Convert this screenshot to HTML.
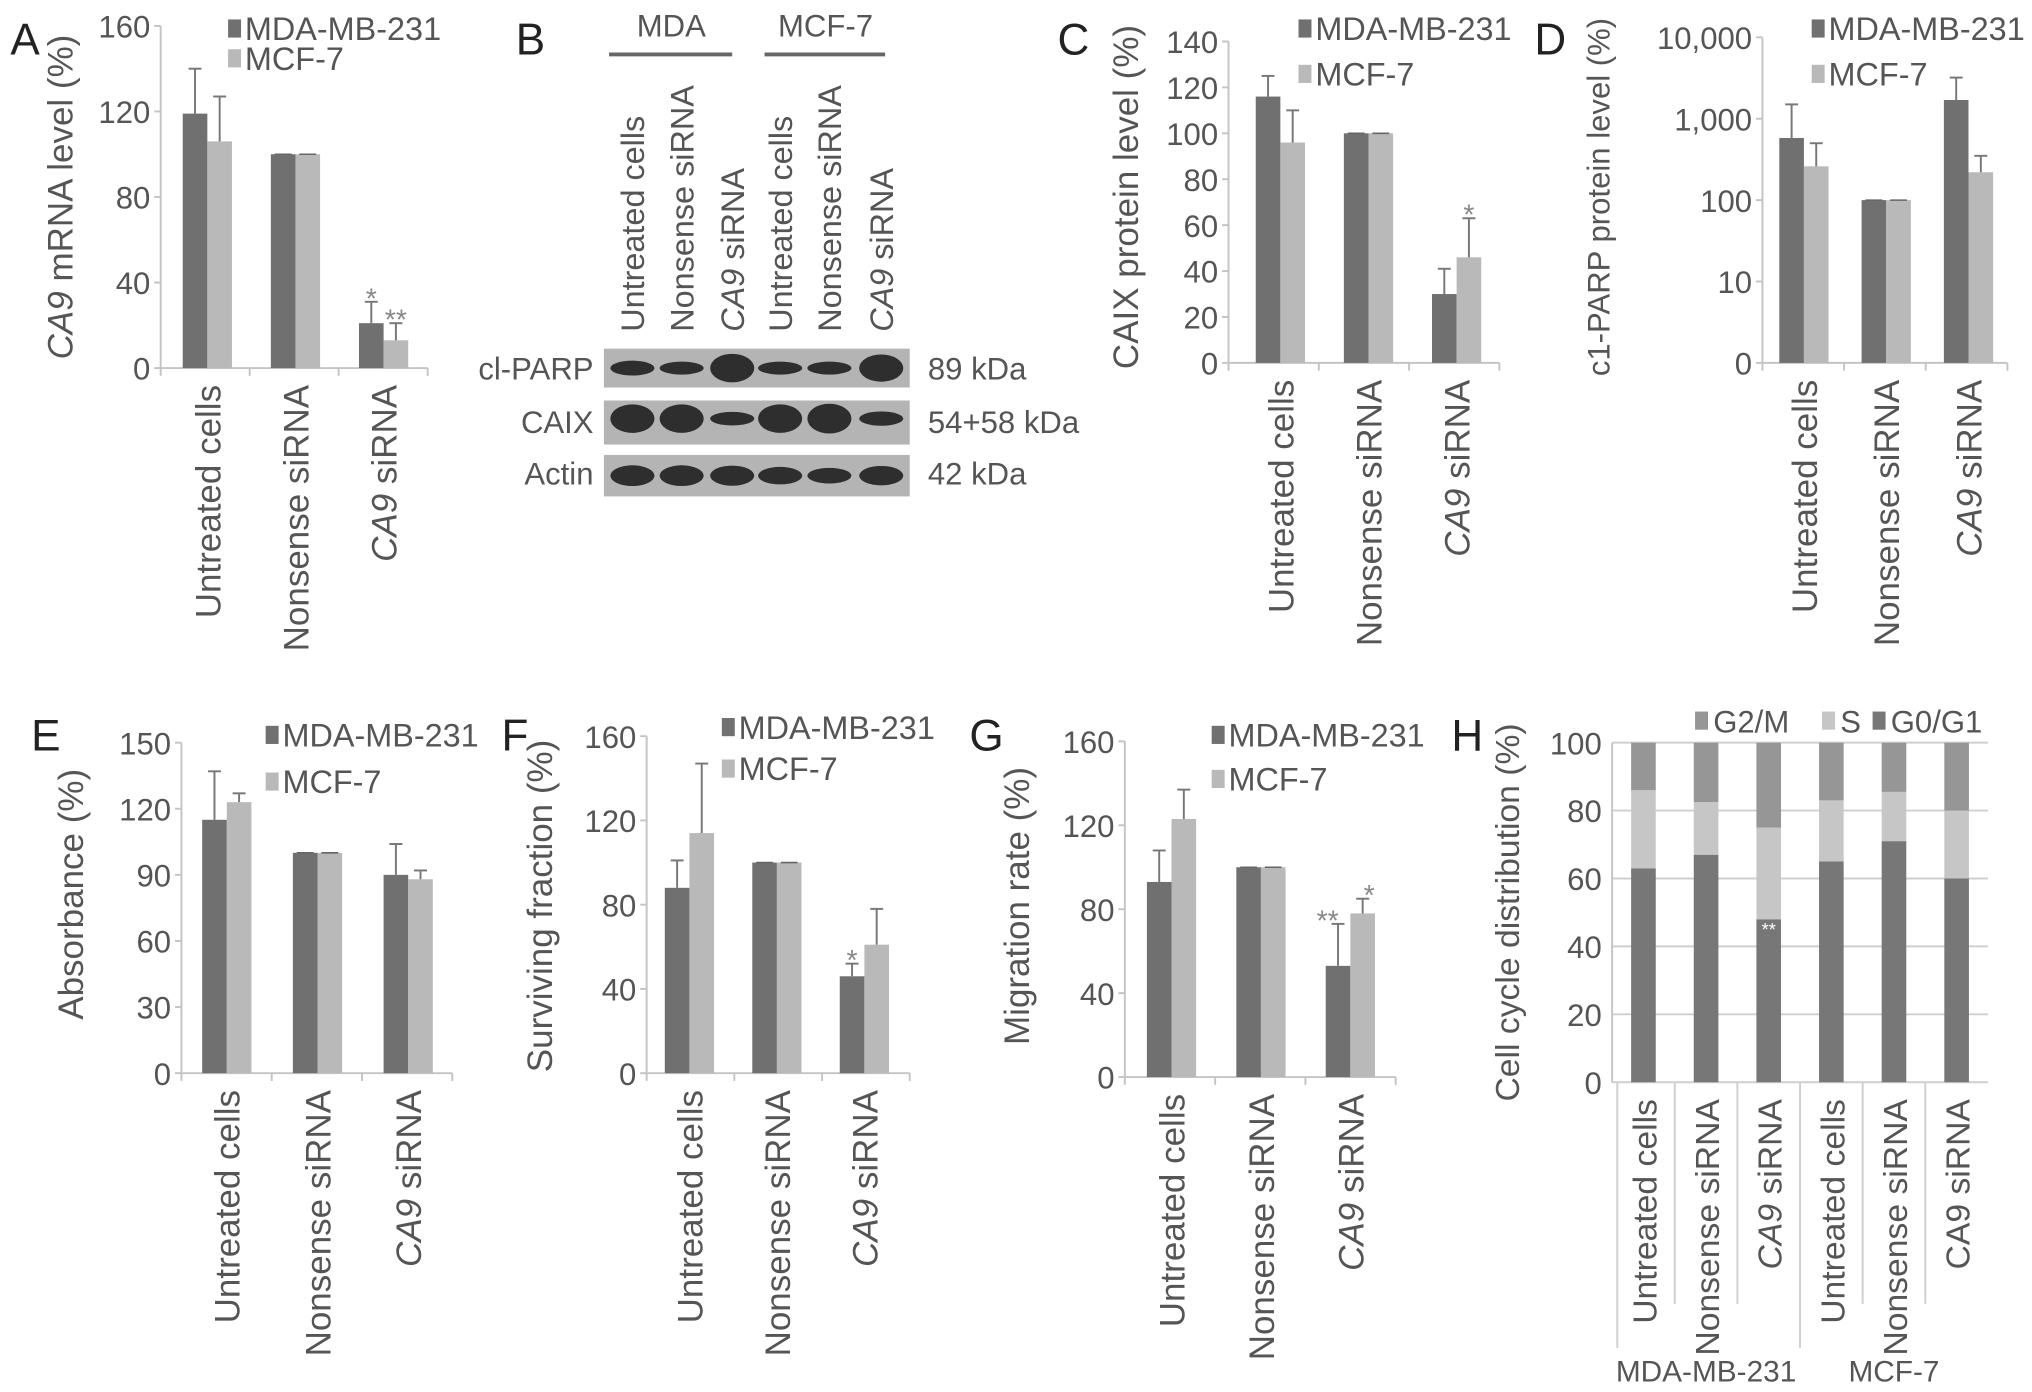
<!DOCTYPE html>
<html><head><meta charset="utf-8"><style>
html,body{margin:0;padding:0;background:#fff;}
svg{display:block;}
text{font-family:"Liberation Sans",sans-serif;fill:#555;}
</style></head><body>
<svg id="fig" xmlns="http://www.w3.org/2000/svg" width="2032" height="1392" viewBox="0 0 1568 1074" preserveAspectRatio="none">
<rect width="1568" height="1074" fill="#fff"/>
<g id="blot">
<text x="398" y="42" font-size="34" style="fill:#222">B</text>
<text x="518" y="28" font-size="24" text-anchor="middle">MDA</text>
<line x1="470" y1="42" x2="565" y2="42" stroke="#666" stroke-width="3"/>
<text x="637" y="28" font-size="24" text-anchor="middle">MCF-7</text>
<line x1="590" y1="42" x2="683" y2="42" stroke="#666" stroke-width="3"/>
<g id="blotlanes"></g>
<rect x="466" y="269" width="236" height="30" fill="#b4b4b4"/>
<rect x="466" y="309" width="236" height="34" fill="#b4b4b4"/>
<rect x="466" y="351" width="236" height="32" fill="#b4b4b4"/>
<g id="bands"></g>
<text x="458" y="293" font-size="24" text-anchor="end">cl-PARP</text>
<text x="458" y="334" font-size="24" text-anchor="end">CAIX</text>
<text x="458" y="374" font-size="24" text-anchor="end">Actin</text>
<text x="716" y="293" font-size="24">89 kDa</text>
<text x="716" y="334" font-size="24">54+58 kDa</text>
<text x="716" y="374" font-size="24">42 kDa</text>
</g>
</svg>
<script>
const categories = ["Untreated cells", "Nonsense siRNA", "CA9 siRNA"];
const aMDA = [119, 100, 21], aMCF = [106, 100, 13], aMDAerr = [21, 0, 10], aMCFerr = [21, 0, 8];
const cMDA = [116, 100, 30], cMCF = [96, 100, 46], cMDAerr = [9, 0, 11], cMCFerr = [14, 0, 17];
const dMDA = [580, 100, 1700], dMCF = [260, 100, 220], dMDAtop = [1500, 100, 3200], dMCFtop = [500, 100, 350];
const eMDA = [115, 100, 90], eMCF = [123, 100, 88], eMDAerr = [22, 0, 14], eMCFerr = [4, 0, 4];
const fMDA = [88, 100, 46], fMCF = [114, 100, 61], fMDAerr = [13, 0, 6], fMCFerr = [33, 0, 17];
const gMDA = [93, 100, 53], gMCF = [123, 100, 78], gMDAerr = [15, 0, 20], gMCFerr = [14, 0, 7];
const aTicks = [0, 40, 80, 120, 160];
const cTicks = [0, 20, 40, 60, 80, 100, 120, 140];
const dTicks = [1, 10, 100, 1000, 10000];
const dTickLabels = ["0", "10", "100", "1,000", "10,000"];
const eTicks = [0, 30, 60, 90, 120, 150];
const fTicks = [0, 40, 80, 120, 160];
const hCats = ["Untreated cells", "Nonsense siRNA", "CA9 siRNA", "Untreated cells", "Nonsense siRNA", "CA9 siRNA"];
const hG0G1 = [63, 67, 48, 65, 71, 60];
const hS = [23, 15.5, 27, 18, 14.5, 20];
const hG2M = [14, 17.5, 25, 17, 14.5, 20];
const hTicks = [0, 20, 40, 60, 80, 100];
const blotParp = [0.55, 0.4, 1.6, 0.4, 0.4, 1.5];
const blotCaix = [1.6, 1.6, 0.45, 1.6, 1.7, 0.5];
const blotActin = [1.0, 1.0, 0.95, 0.75, 0.6, 0.9];

const NS = "http://www.w3.org/2000/svg";
const svg = document.getElementById("fig");
function mk(tag, attrs, parent) {
  const e = document.createElementNS(NS, tag);
  for (const k in attrs) e.setAttribute(k, attrs[k]);
  (parent || svg).appendChild(e);
  return e;
}
const DARK = "#707070", LIGHT = "#b9b9b9", AX = "#c4c4c4";
const CATFS = 27, TICKFS = 24, LEGFS = 25, TITLEFS = 27;

function catLabel(g, txt, x, y, fs) {
  const t = mk("text", {x: 0, y: 0, "font-size": fs, "text-anchor": "end", transform: `translate(${x},${y}) rotate(-90)`}, g);
  
  
  if (txt.startsWith("CA9")) {
    const s = mk("tspan", {"font-style": "italic"}, t); s.textContent = "CA9";
    const s2 = mk("tspan", {}, t); s2.textContent = txt.slice(3);
  } else t.textContent = txt;
}

function barPanel(cfg) {
  const g = mk("g", {});
  
  
  const yOf = v => cfg.log ? cfg.y0 - Math.log10(v) * cfg.logStep : cfg.y0 - (v - cfg.min) / (cfg.max - cfg.min) * (cfg.y0 - cfg.yTop);
  mk("line", {x1: cfg.ax, y1: cfg.yTop, x2: cfg.ax, y2: cfg.y0, stroke: AX, "stroke-width": 1.5}, g);
  mk("line", {x1: cfg.ax, y1: cfg.y0, x2: cfg.axEnd, y2: cfg.y0, stroke: AX, "stroke-width": 1.5}, g);
  cfg.ticks.forEach((t, i) => {
    const y = yOf(t);
    mk("line", {x1: cfg.ax - 5, y1: y, x2: cfg.ax, y2: y, stroke: AX, "stroke-width": 1.5}, g);
    const tx = mk("text", {x: cfg.ax - 8, y: y + 9, "font-size": TICKFS, "text-anchor": "end"}, g);
    
    
    tx.textContent = cfg.tickLabels ? cfg.tickLabels[i] : t;
  });
  for (let i = 0; i <= categories.length; i++) {
    const x = cfg.ax + (cfg.axEnd - cfg.ax) * i / categories.length;
    mk("line", {x1: x, y1: cfg.y0, x2: x, y2: cfg.y0 + 6, stroke: AX, "stroke-width": 1.5}, g);
  }
  const bw = 19;
  categories.forEach((c, i) => {
    const cx = cfg.c0 + cfg.cw * i;
    [[cfg.mda, cfg.mdaErr, cfg.mdaTop, DARK, cx - bw], [cfg.mcf, cfg.mcfErr, cfg.mcfTop, LIGHT, cx]].forEach(([vals, err, tops, col, x], s) => {
      const y = yOf(vals[i]);
      const r = mk("rect", {x: x, y: y, width: bw, height: cfg.y0 - y, fill: col}, g);
      
      
      const top = tops ? tops[i] : vals[i] + err[i];
      const yt = yOf(top);
      const ex = x + bw / 2;
      if (top > vals[i]) {
        mk("line", {x1: ex, y1: y, x2: ex, y2: yt, stroke: "#777", "stroke-width": 1.5}, g);
        mk("line", {x1: ex - 5, y1: yt, x2: ex + 5, y2: yt, stroke: "#777", "stroke-width": 1.5}, g);
      } else {
        mk("line", {x1: x + 3, y1: y, x2: x + bw - 3, y2: y, stroke: "#666", "stroke-width": 1.2}, g);
      }
    });
    catLabel(g, c, cx + 10, cfg.y0 + 13, CATFS);
  });
  (cfg.stars || []).forEach(st => {
    const i = st[0];
    const cx = cfg.c0 + cfg.cw * i + (st[1] === 0 ? -bw / 2 : bw / 2);
    const top = st[1] === 0 ? (cfg.mdaTop ? cfg.mdaTop[i] : cfg.mda[i] + cfg.mdaErr[i]) : (cfg.mcfTop ? cfg.mcfTop[i] : cfg.mcf[i] + cfg.mcfErr[i]);
    const t = mk("text", {x: cx + (st[3] || 0), y: yOf(top) + 5, "font-size": 22, "text-anchor": "middle", style: "fill:#888"}, g);
    
    
    t.textContent = st[2];
  });
  [["MDA-MB-231", DARK, cfg.leg[1]], ["MCF-7", LIGHT, cfg.leg[2]]].forEach(([nm, col, ly]) => {
    const r = mk("rect", {x: cfg.leg[0], y: ly - 7, width: 10, height: 14, fill: col}, g);
    
    
    const t = mk("text", {x: cfg.leg[0] + 13, y: ly + 9, "font-size": LEGFS}, g);
    
    
    t.textContent = nm;
  });
  const yt = mk("text", {x: 0, y: 0, "font-size": cfg.titleFs || TITLEFS, "text-anchor": "middle", transform: `translate(${cfg.yTitle[0]},${cfg.yTitle[1]}) rotate(-90)`}, g);
  
  
  if (cfg.title.startsWith("CA9")) {
    const s = mk("tspan", {"font-style": "italic"}, yt); s.textContent = "CA9";
    const s2 = mk("tspan", {}, yt); s2.textContent = cfg.title.slice(3);
  } else yt.textContent = cfg.title;
  const pl = mk("text", {x: cfg.letter[0], y: cfg.letter[1], "font-size": 34, style: "fill:#222"}, g);
  
  
  pl.textContent = cfg.letterText;
}

barPanel({name: "panel-a-chart", ax: 124, axEnd: 330, y0: 284, yTop: 20, min: 0, max: 160, ticks: aTicks, c0: 160, cw: 68,
  mda: aMDA, mcf: aMCF, mdaErr: aMDAerr, mcfErr: aMCFerr, stars: [[2, 0, "*"], [2, 1, "**"]],
  leg: [176, 22, 45], yTitle: [56, 152], title: "CA9 mRNA level (%)", letter: [8, 42], letterText: "A"});
barPanel({name: "panel-c-chart", ax: 948, axEnd: 1157, y0: 280, yTop: 32, min: 0, max: 140, ticks: cTicks, c0: 988, cw: 68,
  mda: cMDA, mcf: cMCF, mdaErr: cMDAerr, mcfErr: cMCFerr, stars: [[2, 1, "*"]],
  leg: [1002, 22, 57], yTitle: [878, 152], title: "CAIX protein level (%)", letter: [816, 42], letterText: "C"});
barPanel({name: "panel-d-chart", ax: 1360, axEnd: 1549, y0: 280, yTop: 29, log: true, logStep: 62.8, ticks: dTicks, tickLabels: dTickLabels, c0: 1392, cw: 63.5,
  mda: dMDA, mcf: dMCF, mdaTop: dMDAtop, mcfTop: dMCFtop, titleFs: 24,
  leg: [1398, 22, 57], yTitle: [1242, 152], title: "c1-PARP protein level (%)", letter: [1184, 42], letterText: "D"});
barPanel({name: "panel-e-chart", ax: 140, axEnd: 349, y0: 828, yTop: 573, min: 0, max: 150, ticks: eTicks, c0: 175, cw: 70,
  mda: eMDA, mcf: eMCF, mdaErr: eMDAerr, mcfErr: eMCFerr,
  leg: [205, 567, 603], yTitle: [64, 690], title: "Absorbance (%)", letter: [24, 579], letterText: "E"});
barPanel({name: "panel-f-chart", ax: 499, axEnd: 702, y0: 828, yTop: 568, min: 0, max: 160, ticks: fTicks, c0: 532, cw: 67.5,
  mda: fMDA, mcf: fMCF, mdaErr: fMDAerr, mcfErr: fMCFerr, stars: [[2, 0, "*"]],
  leg: [557, 561, 593], yTitle: [426, 699], title: "Surviving fraction (%)", letter: [387, 579], letterText: "F"});
barPanel({name: "panel-g-chart", ax: 868, axEnd: 1077, y0: 831, yTop: 572, min: 0, max: 160, ticks: fTicks, c0: 904, cw: 69,
  mda: gMDA, mcf: gMCF, mdaErr: gMDAerr, mcfErr: gMCFerr, stars: [[2, 0, "**", -8], [2, 1, "*", 5]],
  leg: [935, 567, 601], yTitle: [794, 699], title: "Migration rate (%)", letter: [748, 579], letterText: "G"});

(function () {
  const g = mk("g", {});
  
  
  const ax = 1244, axEnd = 1534, y0 = 835, yTop = 573;
  const yOf = v => y0 - v / 100 * (y0 - yTop);
  hTicks.forEach(t => {
    const y = yOf(t);
    mk("line", {x1: ax, y1: y, x2: axEnd, y2: y, stroke: "#cfcfcf", "stroke-width": 1.5}, g);
    const tx = mk("text", {x: ax - 8, y: y + 9, "font-size": TICKFS, "text-anchor": "end"}, g);
    
    
    tx.textContent = t;
  });
  mk("line", {x1: ax, y1: yTop, x2: ax, y2: y0, stroke: AX, "stroke-width": 1.5}, g);
  const cw = (axEnd - ax) / hCats.length;
  hCats.forEach((c, i) => {
    const cx = ax + cw * (i + 0.5);
    let base = 0;
    [[hG0G1, "#777777", "segment-g0-g1"], [hS, "#c6c6c6", "segment-s"], [hG2M, "#969696", "segment-g2-m"]].forEach(([arr, col, nm]) => {
      const r = mk("rect", {x: cx - 9.5, y: yOf(base + arr[i]), width: 19, height: yOf(base) - yOf(base + arr[i]), fill: col}, g);
      
      
      base += arr[i];
    });
    const t = mk("text", {x: 0, y: 0, "font-size": 26, "text-anchor": "end", transform: `translate(${cx + 10},${y0 + 13}) rotate(-90)`}, g);
    
    
    if (c.startsWith("CA9")) {
      const s = mk("tspan", {"font-style": i < 3 ? "italic" : "normal"}, t); s.textContent = "CA9";
      const s2 = mk("tspan", {}, t); s2.textContent = c.slice(3);
    } else t.textContent = c;
    if (i > 0) {
      const x = ax + cw * i;
      mk("line", {x1: x, y1: y0, x2: x, y2: i === 3 ? 1040 : 1006, stroke: "#cfcfcf", "stroke-width": 1.5}, g);
    }
  });
  mk("line", {x1: ax + 4, y1: y0, x2: ax + 4, y2: 1040, stroke: "#cfcfcf", "stroke-width": 1.5}, g);
  const st = mk("text", {x: ax + cw * 2.5, y: yOf(hG0G1[2]) + 13, "font-size": 14, "text-anchor": "middle", style: "fill:#fff"}, g);
  
  
  st.textContent = "**";
  [["MDA-MB-231", ax + cw * 1.5], ["MCF-7", ax + cw * 4.5]].forEach(([nm, x]) => {
    const t = mk("text", {x: x, y: 1066, "font-size": 23, "text-anchor": "middle"}, g);
    
    
    t.textContent = nm;
  });
  [["G2/M", "#969696", 1308], ["S", "#c6c6c6", 1406], ["G0/G1", "#777777", 1445]].forEach(([nm, col, x]) => {
    const r = mk("rect", {x: x, y: 549, width: 10, height: 14, fill: col}, g);
    
    
    const t = mk("text", {x: x + 14, y: 565, "font-size": 24}, g);
    
    
    t.textContent = nm;
  });
  const yt = mk("text", {x: 0, y: 0, "font-size": 26, "text-anchor": "middle", transform: `translate(1172,704) rotate(-90)`}, g);
  
  
  yt.textContent = "Cell cycle distribution (%)";
  const pl = mk("text", {x: 1120, y: 579, "font-size": 34, style: "fill:#222"}, g);
  
  
  pl.textContent = "H";
})();

(function () {
  const lanesG = document.getElementById("blotlanes");
  const laneX = [488, 526, 565, 602, 640, 680];
  const laneNames = ["Untreated cells", "Nonsense siRNA", "CA9 siRNA", "Untreated cells", "Nonsense siRNA", "CA9 siRNA"];
  laneNames.forEach((n, i) => {
    const t = mk("text", {x: 0, y: 0, "font-size": 25, "text-anchor": "start", transform: `translate(${laneX[i] + 9},${256}) rotate(-90)`}, lanesG);
    
    
    if (n.startsWith("CA9")) {
      const s = mk("tspan", {"font-style": "italic"}, t); s.textContent = "CA9";
      const s2 = mk("tspan", {}, t); s2.textContent = n.slice(3);
    } else t.textContent = n;
  });
  const bands = document.getElementById("bands");
  [[blotParp, 284], [blotCaix, 323], [blotActin, 367]].forEach(([arr, cy]) => {
    arr.forEach((v, i) => {
      const e = mk("ellipse", {cx: laneX[i], cy: cy, rx: 17, ry: 3 + v * 5, fill: "#2e2e2e"}, bands);
      
      
    });
  });
})();
</script>
</body></html>
